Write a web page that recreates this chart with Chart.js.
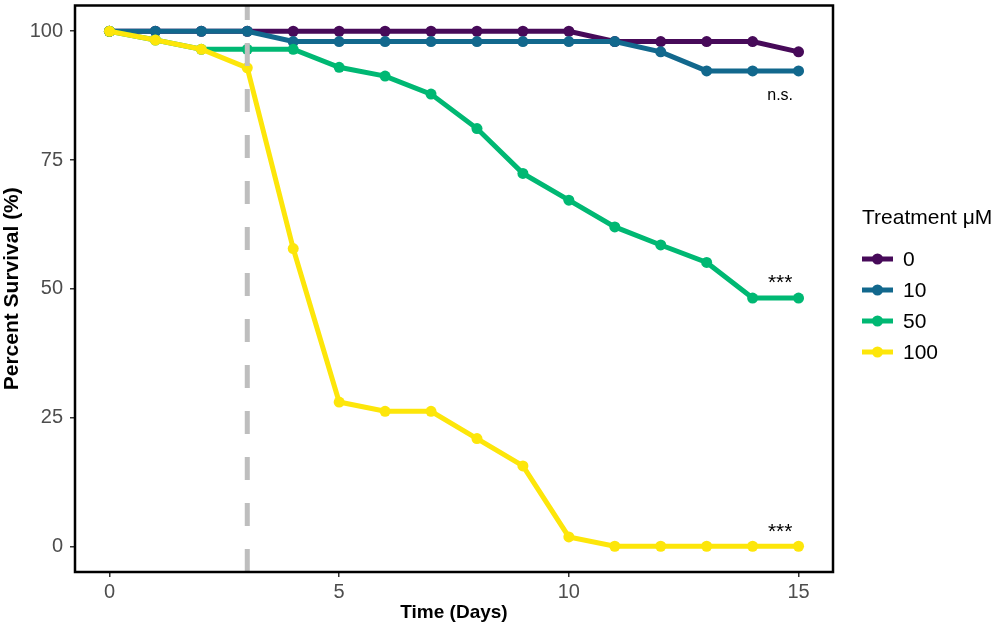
<!DOCTYPE html>
<html>
<head>
<meta charset="utf-8">
<script src="https://cdn.jsdelivr.net/npm/chart.js@4.4.1/dist/chart.umd.min.js"></script>
<style>
  html, body { margin: 0; padding: 0; background: #fff; }
  #wrap { width: 1003px; height: 629px; }
</style>
</head>
<body>
<div id="wrap"><canvas id="survivalChart"></canvas></div>
<script>
// Datos
const days = [0, 1, 2, 3, 4, 5, 6, 7, 8, 9, 10, 11, 12, 13, 14, 15];
const treatments = ['0', '10', '50', '100'];
const survival0 = [100, 100, 100, 100, 100, 100, 100, 100, 100, 100, 100, 98, 98, 98, 98, 96];
const survival10 = [100, 100, 100, 100, 98, 98, 98, 98, 98, 98, 98, 98, 96, 92.3, 92.3, 92.3];
const survival50 = [100, 98.3, 96.5, 96.5, 96.5, 93, 91.3, 87.8, 81.1, 72.4, 67.2, 62, 58.5, 55.1, 48.2, 48.2];
const survival100 = [100, 98.3, 96.5, 92.9, 57.8, 28, 26.2, 26.2, 20.9, 15.6, 1.8, 0, 0, 0, 0, 0];
const colors = ['#470A59', '#12688D', '#00B873', '#FDE60A'];
const xTicks = [0, 5, 10, 15];
const yTicks = [0, 25, 50, 75, 100];
const treatmentDay = 3;
const annotations = [
    { day: 14.6, value: 87.6, text: 'n.s.' },
    { day: 14.6, value: 51.0, text: '***' },
    { day: 14.6, value: 2.8, text: '***' }
];

const FONT = "'Liberation Sans', Arial, sans-serif";
const seriesValues = [survival0, survival10, survival50, survival100];

// Línea discontinua, anotaciones, marco y leyenda
const extrasPlugin = {
    id: 'extras',
    afterDatasetsDraw(chart) {
        const { ctx, chartArea, scales } = chart;
        const x = scales.x.getPixelForValue(treatmentDay);
        ctx.save();
        ctx.beginPath();
        ctx.rect(chartArea.left, chartArea.top, chartArea.right - chartArea.left, chartArea.bottom - chartArea.top);
        ctx.clip();
        ctx.strokeStyle = '#BEBEBE';
        ctx.lineWidth = 5;
        ctx.setLineDash([23, 23]);
        ctx.beginPath();
        ctx.moveTo(x, chartArea.bottom);
        ctx.lineTo(x, chartArea.top);
        ctx.stroke();
        ctx.restore();

        ctx.save();
        ctx.fillStyle = '#000';
        ctx.textAlign = 'center';
        ctx.textBaseline = 'middle';
        annotations.forEach(a => {
            ctx.font = (a.text === 'n.s.' ? '16px ' : '21px ') + FONT;
            ctx.fillText(a.text, scales.x.getPixelForValue(a.day), scales.y.getPixelForValue(a.value));
        });
        ctx.restore();
    },
    afterDraw(chart) {
        const { ctx, chartArea } = chart;
        ctx.save();
        ctx.strokeStyle = '#000';
        ctx.lineWidth = 2.5;
        ctx.strokeRect(chartArea.left, chartArea.top, chartArea.right - chartArea.left, chartArea.bottom - chartArea.top);

        // Leyenda
        const lx = chartArea.right + 29;
        ctx.fillStyle = '#000';
        ctx.textAlign = 'left';
        ctx.textBaseline = 'middle';
        ctx.font = '21px ' + FONT;
        ctx.fillText('Treatment μM', lx, 218);
        treatments.forEach((t, i) => {
            const y = 259 + i * 31;
            ctx.strokeStyle = colors[i];
            ctx.lineWidth = 5;
            ctx.beginPath();
            ctx.moveTo(lx, y);
            ctx.lineTo(lx + 31, y);
            ctx.stroke();
            ctx.fillStyle = colors[i];
            ctx.beginPath();
            ctx.arc(lx + 15.5, y, 5.5, 0, Math.PI * 2);
            ctx.fill();
            ctx.fillStyle = '#000';
            ctx.fillText(t, lx + 41, y + 1);
        });
        ctx.restore();
    }
};

const ctx = document.getElementById('survivalChart').getContext('2d');

new Chart(ctx, {
    type: 'line',
    data: {
        datasets: treatments.map((t, i) => ({
            label: t,
            data: days.map((d, j) => ({ x: d, y: seriesValues[i][j] })),
            borderColor: colors[i],
            backgroundColor: colors[i],
            borderWidth: 5,
            pointRadius: 5.5,
            pointHoverRadius: 5.5,
            pointBorderWidth: 0,
            tension: 0,
            order: treatments.length - i
        }))
    },
    options: {
        responsive: true,
        maintainAspectRatio: false,
        animation: false,
        layout: {
            padding: { top: 5, right: 170, bottom: 0, left: 0 }
        },
        plugins: {
            tooltip: { enabled: false },
            legend: { display: false }
        },
        scales: {
            x: {
                type: 'linear',
                min: -0.75,
                max: 15.75,
                afterBuildTicks: scale => {
                    scale.ticks = xTicks.map(v => ({ value: v }));
                },
                afterFit: scale => {
                    scale.height = 57;
                    scale.paddingLeft = 0;
                    scale.paddingRight = 0;
                },
                ticks: {
                    color: '#4D4D4D',
                    font: { family: FONT, size: 20 },
                    padding: 3,
                    maxRotation: 0
                },
                grid: {
                    drawOnChartArea: false,
                    tickLength: 5,
                    lineWidth: 1.5,
                    color: '#333'
                },
                border: { display: false },
                title: {
                    display: true,
                    text: 'Time (Days)',
                    color: '#000',
                    font: { family: FONT, size: 19, weight: 'bold' },
                    padding: { top: 0, bottom: 5 }
                }
            },
            y: {
                min: -5,
                max: 105,
                afterBuildTicks: scale => {
                    scale.ticks = yTicks.map(v => ({ value: v }));
                },
                afterFit: scale => {
                    scale.width = 75;
                    scale.paddingTop = 0;
                    scale.paddingBottom = 0;
                },
                ticks: {
                    color: '#4D4D4D',
                    font: { family: FONT, size: 20 },
                    padding: 7
                },
                grid: {
                    drawOnChartArea: false,
                    tickLength: 5,
                    lineWidth: 1.5,
                    color: '#333'
                },
                border: { display: false },
                title: {
                    display: true,
                    text: 'Percent Survival (%)',
                    color: '#000',
                    font: { family: FONT, size: 21, weight: 'bold' },
                    padding: { top: 0, bottom: 0 }
                }
            }
        }
    },
    plugins: [extrasPlugin]
});
</script>
</body>
</html>
